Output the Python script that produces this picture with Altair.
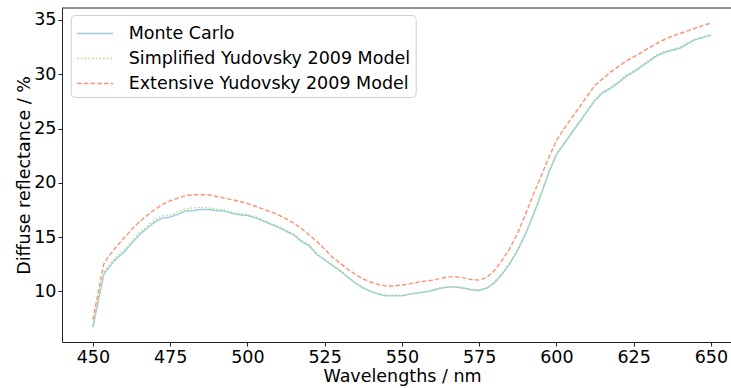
import altair as alt
import pandas as pd

# Wavelength grid (nm)
wavelengths = [450, 453.5, 455, 457.5, 460, 462.5, 465, 467.5, 470, 472.5, 475, 477.5,
               480, 482.5, 485, 487.5, 490, 492.5, 495, 497.5, 500, 502.5, 505, 507.5,
               510, 512.5, 515, 517.5, 520, 522.5, 525, 527.5, 530, 532.5, 535, 537.5,
               540, 542.5, 545, 547.5, 550, 552.5, 555, 557.5, 560, 562.5, 565, 567.5,
               570, 572.5, 575, 577.5, 580, 582.5, 585, 587.5, 590, 592.5, 595, 597.5,
               600, 602.5, 605, 607.5, 610, 612.5, 615, 617.5, 620, 622.5, 625, 627.5,
               630, 632.5, 635, 637.5, 640, 642.5, 645, 647.5, 650]

# Diffuse reflectance (%)
monte_carlo = [6.7, 11.55, 12.15, 13.0, 13.6, 14.4, 15.2, 15.8, 16.4, 16.75, 16.85, 17.1,
               17.4, 17.45, 17.55, 17.55, 17.45, 17.4, 17.2, 17.05, 17.0, 16.8, 16.5, 16.2,
               15.9, 15.55, 15.2, 14.6, 14.2, 13.4, 12.9, 12.4, 11.9, 11.3, 10.75, 10.3,
               10.0, 9.75, 9.6, 9.6, 9.6, 9.75, 9.85, 9.95, 10.1, 10.3, 10.4, 10.4,
               10.3, 10.15, 10.1, 10.3, 10.8, 11.6, 12.6, 13.8, 15.3, 17.0, 18.9, 20.9,
               22.6, 23.6, 24.6, 25.6, 26.6, 27.6, 28.3, 28.7, 29.2, 29.8, 30.2, 30.7,
               31.2, 31.7, 32.0, 32.2, 32.4, 32.8, 33.2, 33.4, 33.6]

simplified = [6.8, 11.75, 12.35, 13.2, 13.8, 14.6, 15.4, 16.0, 16.6, 16.95, 17.05, 17.3,
              17.6, 17.7, 17.75, 17.7, 17.6, 17.5, 17.3, 17.15, 17.1, 16.9, 16.6, 16.3,
              16.0, 15.65, 15.3, 14.7, 14.3, 13.5, 12.95, 12.45, 11.95, 11.35, 10.8, 10.35,
              10.05, 9.8, 9.65, 9.65, 9.65, 9.8, 9.9, 10.0, 10.15, 10.35, 10.45, 10.45,
              10.35, 10.2, 10.15, 10.35, 10.9, 11.7, 12.7, 13.9, 15.4, 17.1, 19.0, 21.0,
              22.7, 23.7, 24.7, 25.7, 26.7, 27.7, 28.4, 28.8, 29.3, 29.9, 30.3, 30.8,
              31.3, 31.8, 32.1, 32.3, 32.5, 32.9, 33.25, 33.45, 33.65]

extensive = [7.4, 12.5, 13.2, 14.1, 14.9, 15.7, 16.4, 17.0, 17.55, 18.0, 18.35, 18.6,
             18.85, 18.9, 18.9, 18.9, 18.75, 18.6, 18.45, 18.3, 18.1, 17.85, 17.6, 17.35,
             17.05, 16.7, 16.3, 15.8, 15.2, 14.6, 13.9, 13.15, 12.6, 12.05, 11.55, 11.15,
             10.85, 10.65, 10.5, 10.5, 10.6, 10.7, 10.85, 10.95, 11.05, 11.2, 11.35, 11.35,
             11.25, 11.1, 11.05, 11.3, 11.95, 12.9, 14.0, 15.4, 17.1, 18.9, 20.6, 22.3,
             23.9, 25.0, 26.0, 27.0, 28.0, 29.0, 29.6, 30.2, 30.7, 31.2, 31.6, 32.0,
             32.45, 32.85, 33.2, 33.5, 33.75, 34.0, 34.25, 34.5, 34.7]

series_names = ["Monte Carlo", "Simplified Yudovsky 2009 Model", "Extensive Yudovsky 2009 Model"]
series_colors = ["#9ecae1", "#a8dc8c", "#fc9272"]
series_dashes = [[1, 0], [1.5, 2.2], [4.5, 2.2]]

frames = []
for name, vals in zip(series_names, [monte_carlo, simplified, extensive]):
    frames.append(pd.DataFrame({"wl": wavelengths, "R": vals, "series": name}))
df = pd.concat(frames, ignore_index=True)

FONT = "DejaVu Sans"
W, H = 669, 334

# Legend swatch: a horizontal stroke longer than the entry's nominal symbol box
SWATCH = "M-1.44,0L1.44,0"

lines = alt.Chart(df).mark_line(strokeWidth=1.4).encode(
    x=alt.X("wl:Q",
            scale=alt.Scale(domain=[440, 656.5], nice=False, zero=False),
            axis=alt.Axis(values=list(range(450, 651, 25)), title="Wavelengths / nm",
                          titleX=340, titleAnchor="middle")),
    y=alt.Y("R:Q",
            scale=alt.Scale(domain=[5.35, 36.1], nice=False, zero=False),
            axis=alt.Axis(values=[10, 15, 20, 25, 30, 35], title="Diffuse reflectance / %")),
    color=alt.Color("series:N",
                    scale=alt.Scale(domain=series_names, range=series_colors),
                    sort=series_names,
                    legend=alt.Legend(title=None, orient="none", legendX=8.7, legendY=7,
                                      symbolType=SWATCH, symbolSize=625, symbolOffset=6,
                                      symbolStrokeWidth=1.4, symbolFillColor="transparent",
                                      labelOffset=20, labelLimit=0,
                                      labelFontSize=17.5, labelFont=FONT, labelColor="#000",
                                      rowPadding=3, padding=5, cornerRadius=4,
                                      strokeColor="#d0d0d0", fillColor="#ffffff")),
    strokeDash=alt.StrokeDash("series:N",
                              scale=alt.Scale(domain=series_names, range=series_dashes),
                              sort=series_names, legend=None),
    order=alt.Order("wl:Q"),
)

# Top frame line of the axes box
top_frame = alt.Chart(df).mark_rule(color="#222", strokeWidth=1).encode(
    x=alt.value(0), x2=alt.value(W), y=alt.value(0)
).transform_filter(alt.datum.wl == 450).transform_filter(alt.datum.series == "Monte Carlo")

chart = alt.layer(lines, top_frame).properties(
    width=W, height=H,
    autosize=alt.AutoSizeParams(type="none"),
    padding={"left": 62, "top": 8, "right": 0, "bottom": 46},
).configure_view(stroke=None).configure_axis(
    labelFont=FONT, titleFont=FONT, labelFontSize=17.5, titleFontSize=17.5,
    labelColor="#000", titleColor="#000", titleFontWeight="normal",
    domainColor="#222", tickColor="#222", tickSize=4, domainWidth=1, tickWidth=1,
    grid=False, labelPadding=2,
).configure_axisX(titlePadding=2).configure_axisY(titlePadding=0)

chart.save("out.html", embed_options={"renderer": "svg", "actions": False})
